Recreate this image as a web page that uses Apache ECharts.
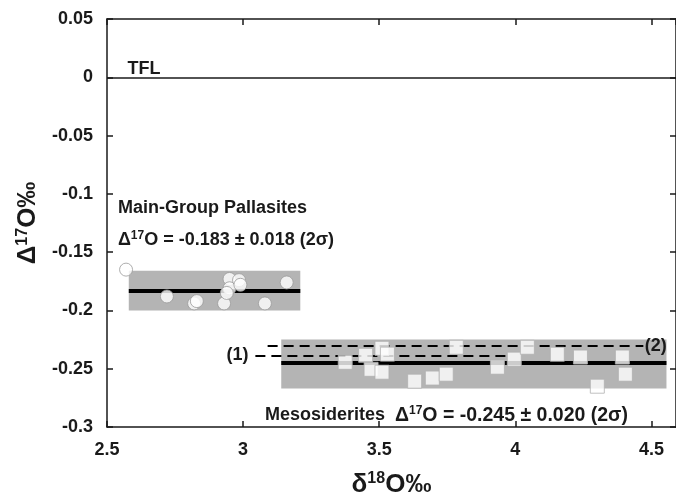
<!DOCTYPE html>
<html>
<head>
<meta charset="utf-8">
<script src="https://cdn.jsdelivr.net/npm/echarts@6/dist/echarts.min.js"></script>
<style>
  html, body { margin: 0; padding: 0; background: #fff; }
  #chart { width: 676px; height: 496px; }
</style>
</head>
<body>
<div id="chart"></div>
<script>
// Main-Group Pallasites (circles)
const pallasiteX = [2.57, 2.72, 2.82, 2.83, 2.93, 2.95, 2.95, 2.94, 2.985, 2.99, 3.08, 3.16];
const pallasiteY = [-0.165, -0.188, -0.194, -0.192, -0.194, -0.173, -0.181, -0.185, -0.174, -0.178, -0.194, -0.176];
// Mesosiderites (squares)
const mesoX = [3.375, 3.45, 3.51, 3.53, 3.47, 3.51, 3.63, 3.695, 3.746, 3.783, 3.934, 3.996, 4.044, 4.154, 4.239, 4.301, 4.393, 4.404];
const mesoY = [-0.2445, -0.2385, -0.2325, -0.2375, -0.2505, -0.253, -0.2607, -0.258, -0.2547, -0.2316, -0.2487, -0.2418, -0.2316, -0.2376, -0.240, -0.265, -0.240, -0.2547];
// group means, 2 sigma bands, their x extents
const pallasiteMean = -0.183, pallasiteBand = [-0.2, -0.166], pallasiteSpan = [2.58, 3.21];
const mesoMean = -0.245, mesoBand = [-0.267, -0.225], mesoSpan = [3.14, 4.555];
// dashed reference lines (1) and (2)
const line1 = { y: -0.2385, x: [3.045, 3.97] };
const line2 = { y: -0.2305, x: [3.09, 4.47] };

const font = '"Liberation Sans", Arial, sans-serif';
const ink = '#1a1a1a';
const chart = echarts.init(document.getElementById('chart'));

const zip = (xs, ys) => xs.map((x, i) => [x, ys[i]]);
function axisParts() {
    return {
        axisLine: { show: true, onZero: false, lineStyle: { color: ink, width: 1.5 } },
        axisTick: { show: true, inside: true, length: 6, lineStyle: { color: ink, width: 1.5 } },
        splitLine: { show: false }
    };
}
const nameRich = {
    d: { fontFamily: font, fontSize: 26, fontWeight: 'bold', color: ink },
    s: { fontFamily: font, fontSize: 16, fontWeight: 'bold', color: ink, verticalAlign: 'top', padding: [0, 0, 11, 0] }
};

const option = {
    animation: false,
    textStyle: { fontFamily: font },
    grid: { left: 107, right: 0, top: 19, bottom: 69, outerBoundsMode: 'none', containLabel: false },
    xAxis: [
        Object.assign({
            type: 'value', min: 2.5, max: 4.59, interval: 0.5, position: 'bottom',
            name: '{d|δ}{s|18}{d|O‰}', nameLocation: 'middle', nameGap: 44,
            nameTextStyle: { rich: nameRich },
            axisLabel: { showMaxLabel: false, margin: 14, fontSize: 18, fontWeight: 'bold', color: ink, fontFamily: font }
        }, axisParts()),
        Object.assign({
            type: 'value', min: 2.5, max: 4.59, interval: 0.5, position: 'top',
            axisLabel: { show: false }
        }, axisParts())
    ],
    yAxis: [
        Object.assign({
            type: 'value', min: -0.3, max: 0.05, interval: 0.05, position: 'left',
            name: '{d|Δ}{s|17}{d|O‰}', nameLocation: 'middle', nameGap: 60, nameRotate: 90,
            nameTextStyle: { rich: nameRich },
            axisLabel: { margin: 14, fontSize: 18, fontWeight: 'bold', color: ink, fontFamily: font }
        }, axisParts()),
        Object.assign({
            type: 'value', min: -0.3, max: 0.05, interval: 0.05, position: 'right',
            axisLabel: { show: false }
        }, axisParts())
    ],
    series: [
        {
            // bands and mean lines, drawn under the points
            type: 'line', data: [], z: 1,
            markArea: {
                silent: true, z: 1,
                itemStyle: { color: '#b4b4b4' },
                data: [
                    [{ coord: [pallasiteSpan[0], pallasiteBand[1]] }, { coord: [pallasiteSpan[1], pallasiteBand[0]] }],
                    [{ coord: [mesoSpan[0], mesoBand[1]] }, { coord: [mesoSpan[1], mesoBand[0]] }]
                ]
            },
            markLine: {
                silent: true, z: 2, symbol: 'none', label: { show: false },
                data: [
                    [{ coord: [2.5, 0], lineStyle: { color: ink, width: 1.5, type: 'solid' } }, { coord: [4.59, 0] }],
                    [{ coord: [pallasiteSpan[0], pallasiteMean], lineStyle: { color: '#000', width: 4, type: 'solid' } }, { coord: [pallasiteSpan[1], pallasiteMean] }],
                    [{ coord: [mesoSpan[0], mesoMean], lineStyle: { color: '#000', width: 4, type: 'solid' } }, { coord: [mesoSpan[1], mesoMean] }],
                    [{ coord: [line1.x[0], line1.y], lineStyle: { color: '#000', width: 1.8, type: [10, 6] } }, { coord: [line1.x[1], line1.y] }],
                    [{ coord: [line2.x[0], line2.y], lineStyle: { color: '#000', width: 1.8, type: [10, 6] } }, { coord: [line2.x[1], line2.y] }]
                ]
            }
        },
        {
            name: 'Main-Group Pallasites', type: 'scatter', z: 3,
            symbol: 'circle', symbolSize: 13,
            itemStyle: { color: '#fff', borderColor: '#9a9a9a', borderWidth: 1 },
            data: zip(pallasiteX, pallasiteY)
        },
        {
            name: 'Mesosiderites', type: 'scatter', z: 3,
            symbol: 'rect', symbolSize: 14,
            itemStyle: { color: '#fff', borderColor: '#b0b0b0', borderWidth: 1 },
            data: zip(mesoX, mesoY)
        }
    ]
};
chart.setOption(option);

// annotations anchored in data coordinates
const rich = {
    t: { fontFamily: font, fontSize: 18, fontWeight: 'bold', fill: ink },
    u: { fontFamily: font, fontSize: 19.5, fontWeight: 'bold', fill: ink },
    s: { fontFamily: font, fontSize: 12, fontWeight: 'bold', fill: ink, verticalAlign: 'top', padding: [0, 0, 9, 0] }
};
function label(text, x, y, align) {
    const p = chart.convertToPixel({ gridIndex: 0 }, [x, y]);
    return {
        type: 'text', x: p[0], y: p[1], z: 10,
        style: { text: text, rich: rich, align: align || 'left', verticalAlign: 'middle',
                 fontFamily: font, fontSize: 18, fontWeight: 'bold', fill: ink }
    };
}
chart.setOption({
    graphic: [
        label('{t|TFL}', 2.575, 0.007),
        label('{t|Main-Group Pallasites}', 2.54, -0.1125),
        label('{t|Δ}{s|17}{t|O = -0.183 ± 0.018 (2σ)}', 2.54, -0.1395),
        label('{t|Mesosiderites  }{u|Δ}{s|17}{u|O = -0.245 ± 0.020 (2σ)}', 3.08, -0.29),
        label('{t|(1)}', 3.02, line1.y, 'right'),
        label('{t|(2)}', 4.475, line2.y)
    ]
});
</script>
</body>
</html>
